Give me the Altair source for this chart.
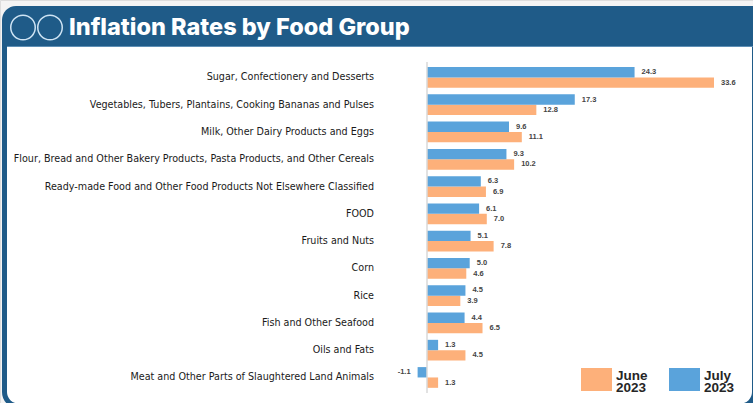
import altair as alt
import pandas as pd

categories = [
    "Sugar, Confectionery and Desserts",
    "Vegetables, Tubers, Plantains, Cooking Bananas and Pulses",
    "Milk, Other Dairy Products and Eggs",
    "Flour, Bread and Other Bakery Products, Pasta Products, and Other Cereals",
    "Ready-made Food and Other Food Products Not Elsewhere Classified",
    "FOOD",
    "Fruits and Nuts",
    "Corn",
    "Rice",
    "Fish and Other Seafood",
    "Oils and Fats",
    "Meat and Other Parts of Slaughtered Land Animals",
]
july_2023 = [24.3, 17.3, 9.6, 9.3, 6.3, 6.1, 5.1, 5.0, 4.5, 4.4, 1.3, -1.1]
june_2023 = [33.6, 12.8, 11.1, 10.2, 6.9, 7.0, 7.8, 4.6, 3.9, 6.5, 4.5, 1.3]
series_names = ["June 2023", "July 2023"]
series_colors = ["#FDB07A", "#5AA3DB"]
title_text = "Inflation Rates by Food Group"

rows = []
for c, jn, jl in zip(categories, june_2023, july_2023):
    rows.append({"category": c, "series": "June 2023", "value": jn, "order": 1})
    rows.append({"category": c, "series": "July 2023", "value": jl, "order": 0})
df = pd.DataFrame(rows)
cat_df = pd.DataFrame({"category": categories})
one = pd.DataFrame({"k": [0]})

W, H = 753, 403
xs = alt.Scale(domain=[0, 33.6], range=[427, 714], zero=False, nice=False)
ys = alt.Scale(domain=categories, range=[63.8, 391.1], paddingInner=0.24, paddingOuter=0.12)
yoff = alt.YOffset("order:O")

frame = alt.Chart(one).mark_rect(
    fill="white", stroke="#1F5B88", strokeWidth=5, cornerRadius=14
).encode(x=alt.value(4.5), x2=alt.value(754.5), y=alt.value(10), y2=alt.value(406))

header = alt.Chart(one).mark_rect(
    fill="#1F5B88", cornerRadiusTopLeft=14
).encode(x=alt.value(2), x2=alt.value(760), y=alt.value(6), y2=alt.value(46))

header_edge = alt.Chart(one).mark_rule(color="#5E8FB5", strokeWidth=1).encode(
    x=alt.value(7), x2=alt.value(760), y=alt.value(46.5)
)

circle1 = alt.Chart(one).mark_point(
    shape="circle", filled=False, stroke="#CFE4F4", strokeWidth=1.5, size=600, opacity=1
).encode(x=alt.value(23), y=alt.value(27.5))
circle2 = alt.Chart(one).mark_point(
    shape="circle", filled=False, stroke="#CFE4F4", strokeWidth=1.5, size=600, opacity=1
).encode(x=alt.value(50), y=alt.value(27.5))

title = alt.Chart(one).mark_text(
    font="Inter", fontSize=23.5, fontWeight=800, color="white",
    align="left", baseline="alphabetic"
).encode(x=alt.value(69), y=alt.value(34.5), text=alt.value(title_text))

zero_rule = alt.Chart(one).mark_rule(color="#D9D9D9", strokeWidth=1.5).encode(
    x=alt.datum(0), y=alt.value(62), y2=alt.value(393)
)

bars = alt.Chart(df).mark_bar().encode(
    x=alt.X("value:Q", scale=xs, axis=None),
    x2=alt.datum(0),
    y=alt.Y("category:N", scale=ys, axis=None),
    yOffset=yoff,
    color=alt.Color(
        "series:N",
        scale=alt.Scale(domain=series_names, range=series_colors),
        legend=alt.Legend(
            title=None, orient="none", legendX=581, legendY=364, direction="horizontal",
            symbolType="M-1,-0.742H1V0.742H-1Z", symbolSize=961, symbolStrokeWidth=0,
            symbolOpacity=1, labelExpr="split(datum.label, ' ')",
            labelFont="Liberation Sans", labelFontSize=13.5, labelFontWeight="bold",
            labelBaseline="alphabetic",
            labelColor="#262626", labelLimit=0, labelOffset=4, columnPadding=21, padding=0,
        ),
    ),
)

label_expr = "replace(format(datum.value, '.1f'), '\u2212', '-')"

pos_labels = alt.Chart(df).transform_filter("datum.value >= 0").transform_calculate(
    label=label_expr
).mark_text(
    align="left", baseline="middle", dx=7, font="Liberation Sans", fontSize=7.5,
    fontWeight="bold", color="#444444"
).encode(
    x=alt.X("value:Q"), y=alt.Y("category:N"), yOffset=yoff, text="label:N",
)
neg_labels = alt.Chart(df).transform_filter("datum.value < 0").transform_calculate(
    label=label_expr
).mark_text(
    align="right", baseline="middle", dx=-7, font="Liberation Sans", fontSize=7.5,
    fontWeight="bold", color="#444444"
).encode(
    x=alt.X("value:Q"), y=alt.Y("category:N"), yOffset=yoff, text="label:N",
)

cat_labels = alt.Chart(cat_df).mark_text(
    align="right", baseline="middle", font="DejaVu Sans", fontSize=9.6, color="#1A1A1A"
).encode(
    x=alt.value(374), y=alt.Y("category:N"), text="category:N"
)

chart = alt.layer(
    frame, header, header_edge, circle1, circle2, title, bars, zero_rule,
    pos_labels, neg_labels, cat_labels
).properties(
    width=W, height=H, padding=0, autosize=alt.AutoSizeParams(type="none"),
    background="#F4F4F4",
).configure_view(strokeWidth=0).configure(
    style={"guide-label": {"lineHeight": 12}}
)

chart.save("out.html", embed_options={"renderer": "svg", "actions": False})
